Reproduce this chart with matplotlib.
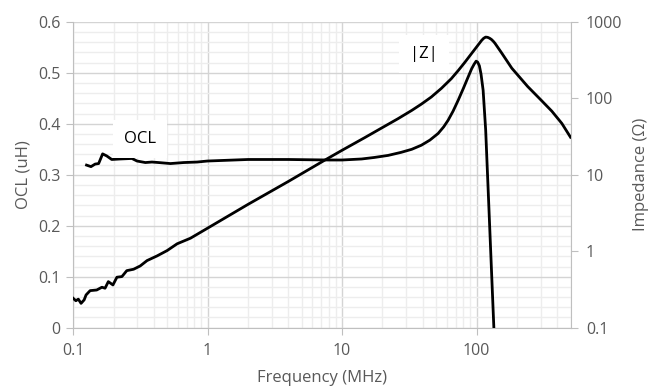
import matplotlib.pyplot as plt
from matplotlib.ticker import FixedLocator, NullFormatter, MultipleLocator, LogLocator

plt.rcParams['font.family'] = ['Open Sans', 'DejaVu Sans']

# OCL (uH) vs frequency (MHz)
ocl_freq = [0.126, 0.136, 0.146, 0.155, 0.166, 0.178, 0.194, 0.224, 0.274, 0.299,
            0.345, 0.386, 0.433, 0.53, 0.665, 0.837, 1.0, 2.0, 4.0, 8.0, 10.0,
            14.0, 17.4, 22.0, 27.5, 33.0, 38.9, 45.0, 51.8, 57.0, 61.5, 67.0,
            73.0, 80.0, 86.7, 92.0, 96.0, 99.4, 102.0, 105.0, 108.0, 112.0,
            117.0, 123.0, 134.6]
ocl_val = [0.319, 0.316, 0.321, 0.322, 0.341, 0.337, 0.330, 0.331, 0.332, 0.327,
           0.324, 0.325, 0.324, 0.322, 0.324, 0.325, 0.327, 0.330, 0.330, 0.329, 0.329,
           0.331, 0.334, 0.338, 0.344, 0.350, 0.358, 0.368, 0.381, 0.394, 0.407, 0.425,
           0.446, 0.470, 0.492, 0.508, 0.517, 0.523, 0.521, 0.514, 0.498, 0.466,
           0.388, 0.25, 0.0]

# |Z| (ohm) vs frequency (MHz)
z_freq = [0.1, 0.105, 0.1095, 0.1147, 0.121, 0.125, 0.134, 0.150, 0.164, 0.173,
          0.183, 0.198, 0.212, 0.231, 0.251, 0.282, 0.316, 0.355, 0.421, 0.501,
          0.594, 0.747, 1.0, 2.0, 4.0, 7.38, 10.0, 14.7, 19.5, 26.0, 33.0, 38.9,
          46.1, 54.8, 65.0, 73.0, 81.8, 91.8, 103.0, 109.0, 113.0, 117.0, 121.0,
          125.0, 129.0, 133.0, 137.0, 154.0, 183.0, 240.0, 300.0, 363.0, 431.0, 500.0]
z_val = [0.243, 0.225, 0.236, 0.208, 0.231, 0.268, 0.305, 0.311, 0.338, 0.328,
         0.400, 0.362, 0.457, 0.466, 0.557, 0.581, 0.642, 0.754, 0.867, 1.02,
         1.25, 1.48, 2.0, 4.1, 8.2, 15.4, 20.9, 30.5, 40.5, 54.0, 69.5, 84.0,
         104.0, 135.0, 181.0, 230.0, 295.0, 385.0, 501.0, 571.0, 610.0, 633.0, 628.0,
         612.0, 590.0, 560.0, 527.0, 391.0, 248.0, 143.0, 96.0, 68.0, 47.0, 31.0]

grey = '#595959'
fig = plt.figure(figsize=(6.55, 3.91), dpi=100)
ax = fig.add_axes([0.1115, 0.162, 0.7595, 0.782])
ax2 = ax.twinx()

ax.plot(ocl_freq, ocl_val, color='black', lw=2.0, solid_joinstyle='round', zorder=3)
ax2.plot(z_freq, z_val, color='black', lw=2.0, solid_joinstyle='round', zorder=3)

ax.set_xscale('log')
ax.set_xlim(0.1, 500)
ax.set_ylim(0, 0.6)
ax.yaxis.set_major_locator(MultipleLocator(0.1))
ax.yaxis.set_major_formatter(plt.FuncFormatter(lambda v, p: '%g' % round(v, 2)))
ax.yaxis.set_minor_locator(MultipleLocator(0.02))
ax.xaxis.set_major_locator(FixedLocator([0.1, 1, 10, 100]))
ax.xaxis.set_major_formatter(plt.FuncFormatter(lambda v, p: '%g' % v))
ax.xaxis.set_minor_locator(LogLocator(base=10, subs=range(2, 10)))
ax.xaxis.set_minor_formatter(NullFormatter())

ax2.set_yscale('log')
ax2.set_ylim(0.1, 1000)
ax2.yaxis.set_major_locator(FixedLocator([0.1, 1, 10, 100, 1000]))
ax2.yaxis.set_major_formatter(plt.FuncFormatter(lambda v, p: '%g' % v))
ax2.yaxis.set_minor_locator(FixedLocator([]))

ax.grid(which='major', color='#d4d4d4', lw=1.0)
ax.grid(which='minor', color='#ededed', lw=1.0)
ax.set_axisbelow(True)

for a in (ax, ax2):
    for s in a.spines.values():
        s.set_visible(False)
    a.tick_params(which='both', colors='#bfbfbf', labelcolor=grey, labelsize=11.5, length=5)
    a.tick_params(which='minor', length=0)
ax.spines['left'].set_visible(True)
ax.spines['bottom'].set_visible(True)
ax2.spines['right'].set_visible(True)
for s in (ax.spines['left'], ax.spines['bottom'], ax2.spines['right']):
    s.set_color('#bfbfbf')
ax.tick_params(axis='x', pad=6)
ax.tick_params(axis='y', pad=4)
ax2.tick_params(axis='y', pad=6)

ax.set_xlabel('Frequency (MHz)', color=grey, fontsize=12, labelpad=8)
ax.set_ylabel('OCL (uH)', color=grey, fontsize=12, labelpad=5)
ax2.set_ylabel('Impedance (Ω)', color=grey, fontsize=12, labelpad=8)

ax.text(0.316, 0.37, 'OCL', fontsize=12, color='black', ha='center', va='center',
        bbox=dict(facecolor='white', edgecolor='none', pad=8), zorder=4)
ax.text(40.7, 0.537, '|Z|', fontsize=12, color='black', ha='center', va='center',
        bbox=dict(facecolor='white', edgecolor='none', pad=8), zorder=4)

fig.savefig('out.png', dpi=100)
